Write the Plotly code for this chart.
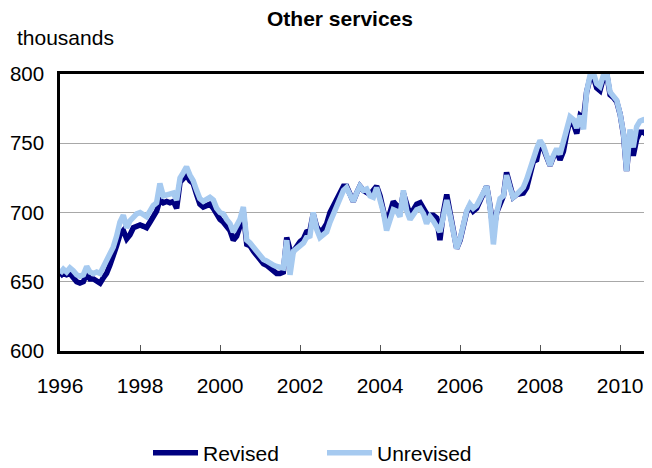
import pandas as pd
import plotly.graph_objects as go

# Monthly, January 1996 onward (thousands)
months = pd.date_range("1996-01-01", periods=179, freq="MS")

revised = [
    # 1996
    654, 656, 655, 656, 653, 650, 649, 650, 656, 652, 652, 651,
    # 1997
    649, 653, 656, 662, 668, 676, 684, 687, 681, 684, 689, 690,
    # 1998
    691, 690, 689, 693, 698, 701, 709, 707, 708, 707, 708, 703,
    # 1999
    722, 725, 727, 723, 721, 713, 706, 704, 705, 706, 703, 698,
    # 2000
    695, 693, 690, 687, 680, 683, 690, 700, 677, 676, 672, 669,
    # 2001
    665, 663, 662, 660, 658, 656, 656, 657, 682, 673, 672, 676,
    # 2002
    679, 681, 686, 687, 699, 690, 686, 688, 692, 700, 705, 709,
    # 2003
    715, 719, 719, 713, 708, 714, 719, 716, 715, 713, 716, 719,
    # 2004
    712, 703, 691, 700, 708, 705, 700, 714, 704, 698, 702, 706,
    # 2005
    707, 702, 699, 698, 698, 696, 680, 700, 713, 700, 685, 674,
    # 2006
    680, 690, 700, 705, 701, 703, 709, 714, 719, 705, 686, 700,
    # 2007
    707, 712, 729, 718, 711, 713, 714, 714, 718, 729, 737, 738,
    # 2008
    750, 746, 740, 734, 740, 745, 738, 744, 757, 767, 764, 757,
    # 2009
    770, 768, 787, 797, 798, 790, 788, 797, 800, 785, 783, 780,
    # 2010
    771, 756, 730, 755, 741, 753, 758, 758, 756, 751, 747,
]

unrevised = [
    # 1996
    656, 659, 657, 660, 658, 655, 654, 655, 661, 657, 656, 657,
    # 1997
    656, 661, 665, 670, 675, 683, 693, 698, 689, 694, 697, 699,
    # 1998
    700, 698, 697, 701, 705, 707, 721, 712, 713, 713, 714, 709,
    # 1999
    725, 729, 733, 727, 723, 716, 710, 708, 710, 711, 709, 703,
    # 2000
    700, 699, 695, 692, 686, 690, 695, 704, 680, 678, 675, 672,
    # 2001
    668, 666, 665, 663, 662, 661, 660, 660, 680, 655, 672, 674,
    # 2002
    676, 678, 682, 683, 700, 688, 682, 684, 686, 693, 699, 703,
    # 2003
    709, 716, 718, 712, 708, 714, 719, 716, 717, 712, 711, 718,
    # 2004
    710, 700, 687, 694, 702, 701, 697, 716, 701, 695, 698, 702,
    # 2005
    703, 699, 692, 697, 694, 690, 686, 697, 709, 698, 685, 674,
    # 2006
    681, 690, 701, 706, 703, 705, 709, 714, 719, 704, 677, 700,
    # 2007
    710, 712, 727, 718, 711, 713, 716, 718, 724, 732, 741, 746,
    # 2008
    752, 748, 741, 734, 741, 746, 742, 750, 760, 769, 767, 761,
    # 2009
    770, 760, 787, 799, 801, 793, 791, 799, 801, 787, 784, 781,
    # 2010
    771, 757, 730, 760, 747, 762, 766, 767, 766, 763, 758,
]

y_ticks = [600, 650, 700, 750, 800]
x_tick_years = ["1996", "1998", "2000", "2002", "2004", "2006", "2008", "2010"]

FONT = "Liberation Sans, Arial, sans-serif"
FS = 21
DARK = "#000080"
LIGHT = "#A6CAF0"

# The page body has an 8px margin, so the figure is laid out 8px up/left.
W, H = 644, 460
L, T, B = 52, 66, 117
PW = W - L
PH = H - T - B

fig = go.Figure()
fig.add_trace(go.Scatter(x=months, y=revised, mode="lines", name="Revised",
                         line=dict(color=DARK, width=5.5), legend="legend"))
fig.add_trace(go.Scatter(x=months, y=unrevised, mode="lines", name="Unrevised",
                         line=dict(color=LIGHT, width=5.5), legend="legend2"))

leg_y = (PH - (445 - T)) / PH
leg_common = dict(orientation="h", yanchor="middle", xanchor="left", y=leg_y,
                  font=dict(family=FONT, size=FS, color="black"),
                  bgcolor="rgba(0,0,0,0)", itemwidth=45, borderwidth=0)

fig.update_layout(
    width=W, height=H,
    margin=dict(l=L, r=0, t=T, b=B, autoexpand=False),
    paper_bgcolor="white", plot_bgcolor="white",
    font=dict(family=FONT, size=FS, color="black"),
    title=dict(text="<b>Other services</b>", font=dict(family=FONT, size=FS, color="black"),
               xref="container", yref="container", x=332 / W, y=1 - 11 / H,
               xanchor="center", yanchor="middle"),
    showlegend=True,
    legend=dict(x=(140 - L) / PW, **leg_common),
    legend2=dict(x=(314 - L) / PW, **leg_common),
    annotations=[dict(text="thousands", xref="paper", yref="paper",
                      x=(7 - L) / PW, y=(PH - (29 - T)) / PH, xanchor="left", yanchor="middle",
                      showarrow=False, font=dict(family=FONT, size=FS, color="black"))],
)

fig.update_xaxes(
    type="date", range=["1996-01-01", "2010-10-19"],
    tickvals=[pd.Timestamp(f"{y}-01-01") for y in x_tick_years], ticktext=x_tick_years,
    showgrid=False, zeroline=False,
    showline=True, linecolor="black", linewidth=2.5, mirror=True,
    ticks="inside", ticklen=6, tickwidth=1, tickcolor="#555555",
    ticklabelstandoff=14,
    tickfont=dict(family=FONT, size=FS, color="black"),
)
fig.update_yaxes(
    range=[600, 800], tickvals=y_ticks,
    showgrid=True, gridcolor="#A8A8A8", gridwidth=1, zeroline=False,
    showline=True, linecolor="black", linewidth=2.5,
    ticks="", ticklabelstandoff=9,
    tickfont=dict(family=FONT, size=20.5, color="black"),
)

fig.write_html("out.html")
